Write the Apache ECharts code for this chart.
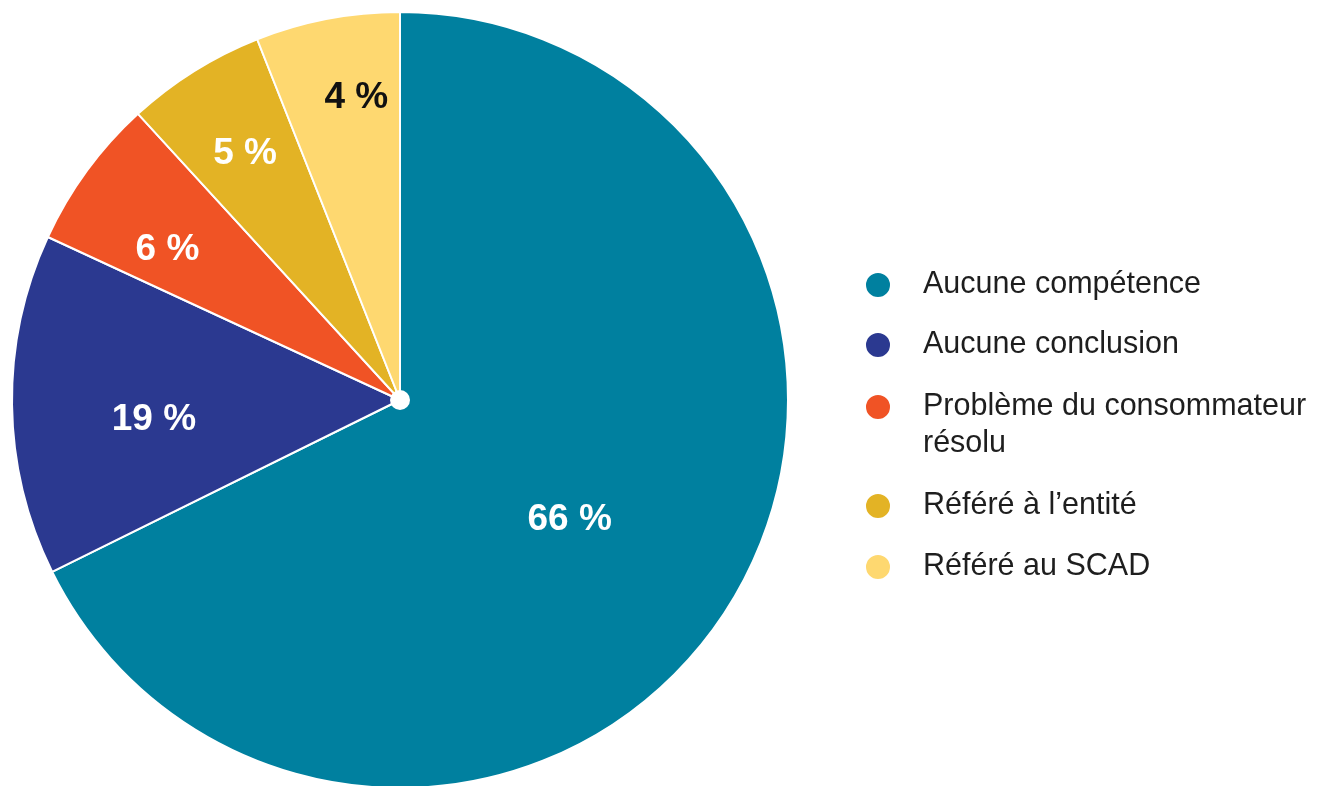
<!DOCTYPE html>
<html>
<head>
<meta charset="utf-8">
<script src="https://cdn.jsdelivr.net/npm/echarts@6/dist/echarts.min.js"></script>
<style>
html,body{margin:0;padding:0;background:#fff;}
#chart{width:1322px;height:786px;}
</style>
</head>
<body>
<div id="chart"></div>
<script>
// Categories (legend order = slice order, clockwise from 12 o'clock)
const categories = [
  "Aucune compétence",
  "Aucune conclusion",
  "Problème du consommateur\nrésolu",
  "Référé à l’entité",
  "Référé au SCAD"
];
// Slice shares as drawn in the picture (percent of the circle)
const sliceShares = [67.7, 14.2, 6.3, 5.8, 6.0];
// Percent labels printed on the slices
const printedLabels = ["66 %", "19 %", "6 %", "5 %", "4 %"];

// Styling (kept apart from data)
const colors = ["#00809f", "#2b3990", "#f05325", "#e3b325", "#fed870"];
const labelColors = ["#ffffff", "#ffffff", "#ffffff", "#ffffff", "#111111"];
const labelRadiusRatio = [0.521, 0.628, 0.712, 0.751, 0.789];
const labelAngleShift = [2.4, -3.1, -2.6, 0.3, 2.7];
const labelNudgeY = 4;
const R = 388;
const CX = 400, CY = 400;

const total = sliceShares.reduce((a, b) => a + b, 0);
let cum = 0;
const pieData = categories.map((name, i) => {
  const midDeg = (cum + sliceShares[i] / 2) / total * 360;
  cum += sliceShares[i];
  const target = (midDeg + labelAngleShift[i]) * Math.PI / 180;
  const mid = midDeg * Math.PI / 180;
  const tr = labelRadiusRatio[i] * R, br = 0.5 * R;
  return {
    name: name,
    value: sliceShares[i],
    itemStyle: { color: colors[i] },
    label: {
      color: labelColors[i],
      offset: [tr * Math.sin(target) - br * Math.sin(mid),
               -tr * Math.cos(target) + br * Math.cos(mid) + labelNudgeY],
      formatter: printedLabels[i]
    }
  };
});

// Legend: one component per item for precise vertical rhythm
const legendCenters = [285, 345, 407, 506, 567];
const legends = categories.map((name, i) => {
  const twoLine = name.indexOf("\n") >= 0;
  const top = twoLine ? legendCenters[i] - 55.5 : legendCenters[i] - 18.5;
  return {
    orient: "vertical",
    left: 864,
    top: top,
    padding: 0,
    icon: "circle",
    itemWidth: 80,
    itemHeight: 26,
    selectedMode: false,
    data: [name],
    formatter: twoLine ? (n => "\n" + n) : (n => n),
    textStyle: {
      fontFamily: "Liberation Sans, Arial, sans-serif",
      fontSize: 30.5,
      color: "#1e1e1e",
      lineHeight: 37
    }
  };
});

const chart = echarts.init(document.getElementById("chart"), null, { renderer: "canvas" });
chart.setOption({
  animation: false,
  backgroundColor: "#ffffff",
  legend: legends,
  series: [
    {
      type: "pie",
      center: [CX, CY],
      radius: [0, R],
      startAngle: 90,
      clockwise: true,
      avoidLabelOverlap: false,
      itemStyle: { borderColor: "#ffffff", borderWidth: 2 },
      label: {
        show: true,
        position: "inside",
        fontFamily: "Liberation Sans, Arial, sans-serif",
        fontWeight: "bold",
        fontSize: 37
      },
      labelLine: { show: false },
      emphasis: { disabled: true },
      data: pieData
    },
    {
      type: "pie",
      center: [CX, CY],
      radius: [0, 10],
      silent: true,
      label: { show: false },
      labelLine: { show: false },
      itemStyle: { color: "#ffffff" },
      data: [{ name: "", value: 1 }],
      legendHoverLink: false
    }
  ]
});
</script>
</body>
</html>
